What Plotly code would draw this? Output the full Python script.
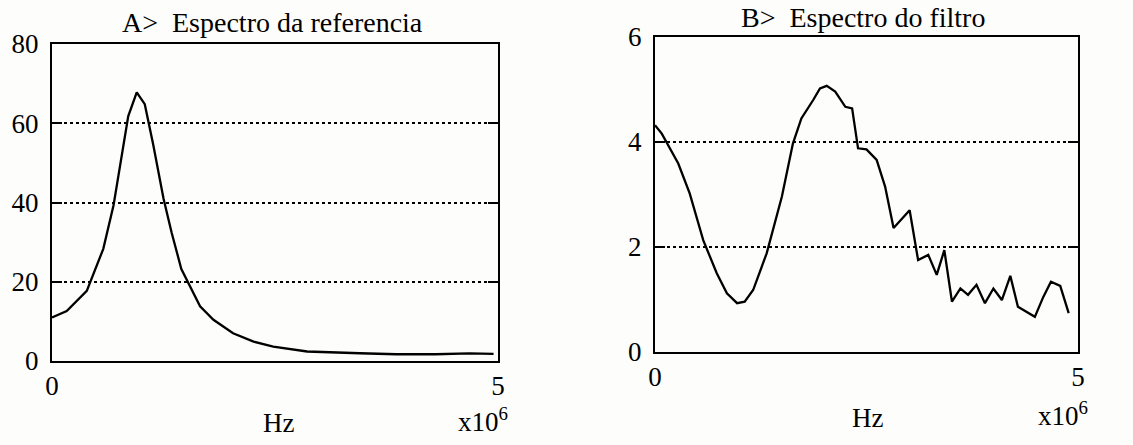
import plotly.graph_objects as go

# Panel A: reference spectrum (x in units of 1e6 Hz)
freq_a = [0.0, 0.165, 0.39, 0.575, 0.69, 0.855, 0.95, 1.04, 1.135, 1.25, 1.34, 1.45,
          1.66, 1.81, 2.03, 2.26, 2.48, 2.86, 3.45, 3.86, 4.3, 4.68, 4.95]
amp_a = [11.0, 12.6, 17.7, 28.3, 39.3, 61.8, 67.8, 64.8, 54.6, 41.0, 32.5, 23.2,
         13.8, 10.4, 7.0, 4.9, 3.6, 2.4, 1.95, 1.7, 1.7, 1.9, 1.8]

# Panel B: filter spectrum
freq_b = [0.0, 0.08, 0.275, 0.41, 0.57, 0.73, 0.85, 0.97, 1.06, 1.16, 1.32, 1.50,
          1.63, 1.73, 1.87, 1.95, 2.03, 2.13, 2.25, 2.33, 2.40, 2.50, 2.62, 2.72,
          2.82, 3.01, 3.11, 3.23, 3.33, 3.42, 3.51, 3.61, 3.70, 3.80, 3.90, 4.00,
          4.10, 4.20, 4.29, 4.39, 4.49, 4.59, 4.68, 4.79, 4.89]
amp_b = [4.32, 4.16, 3.59, 3.02, 2.13, 1.50, 1.12, 0.93, 0.96, 1.18, 1.88, 2.96,
         3.97, 4.45, 4.80, 5.02, 5.07, 4.96, 4.67, 4.64, 3.88, 3.86, 3.66, 3.15,
         2.36, 2.70, 1.75, 1.85, 1.47, 1.94, 0.96, 1.21, 1.09, 1.28, 0.93, 1.21,
         0.99, 1.45, 0.86, 0.77, 0.67, 1.05, 1.34, 1.26, 0.74]

ticks_x = [0, 5]
ticks_ya = [0, 20, 40, 60, 80]
ticks_yb = [0, 2, 4, 6]

title_a = "A>  Espectro da referencia"
title_b = "B>  Espectro do filtro"

FONT = "Liberation Serif, Times New Roman, serif"
W, H = 1133, 445

fig = go.Figure()
fig.add_trace(go.Scatter(x=freq_a, y=amp_a, mode="lines", xaxis="x", yaxis="y",
                         line=dict(color="black", width=2.3), showlegend=False))
fig.add_trace(go.Scatter(x=freq_b, y=amp_b, mode="lines", xaxis="x2", yaxis="y2",
                         line=dict(color="black", width=2.3), showlegend=False))


def fx(px):
    return px / W


def fy(py):
    return 1 - py / H


tick_font = dict(family=FONT, size=27, color="black")

common_x = dict(range=[0, 5], tickvals=ticks_x, showline=True, linecolor="black",
                linewidth=2, mirror=True, showgrid=False, zeroline=False,
                ticks="", automargin=False, tickfont=tick_font,
                ticklabelstandoff=0)
common_y = dict(showline=True, linecolor="black", linewidth=2, mirror="ticks",
                showgrid=True, gridcolor="black", gridwidth=1.5, griddash="dot",
                zeroline=False, ticks="inside", ticklen=10, tickwidth=2,
                tickcolor="black", automargin=False, tickfont=tick_font,
                ticklabelstandoff=6)


def ann(text, px, py, size=27):
    return dict(text=text, x=fx(px), y=fy(py), xref="paper", yref="paper",
                xanchor="center", yanchor="middle", showarrow=False,
                font=dict(family=FONT, size=size, color="black"))


fig.update_layout(
    width=W, height=H,
    margin=dict(l=0, r=0, t=0, b=0),
    paper_bgcolor="#fdfdfb", plot_bgcolor="#fdfdfb",
    xaxis=dict(domain=[fx(52), fx(498)], anchor="y", **common_x),
    yaxis=dict(domain=[fy(361), fy(44)], anchor="x", range=[0, 80],
               tickvals=ticks_ya, **common_y),
    xaxis2=dict(domain=[fx(655), fx(1078)], anchor="y2", **common_x),
    yaxis2=dict(domain=[fy(352), fy(37)], anchor="x2", range=[0, 6],
                tickvals=ticks_yb, **common_y),
    annotations=[
        ann(title_a, 272, 23, 28),
        ann(title_b, 863, 17, 28),
        ann("Hz", 278, 423),
        ann("Hz", 867, 418),
        ann("x10<sup>6</sup>", 483, 420),
        ann("x10<sup>6</sup>", 1063, 414),
    ],
)

fig.write_html("out.html")
